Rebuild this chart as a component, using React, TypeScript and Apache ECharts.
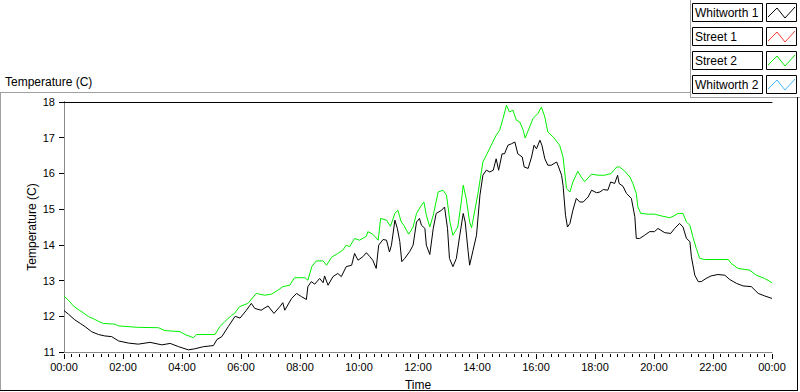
import React, { useEffect, useRef } from "react";
import * as echarts from "echarts";

// ---- data (minutes since midnight, temperature °C) ----
const whitworth1Minutes = [
  0, 9, 22, 33, 43, 56, 70, 83, 97, 111, 131, 151, 175, 199, 216, 233, 253, 266, 284, 304,
  311, 321, 334, 348, 358, 371, 381, 388, 401, 415, 427, 439, 445, 449, 463, 473, 483, 493, 496, 503,
  510, 520, 527, 530, 537, 547, 557, 564, 574, 585, 591, 598, 608, 615, 622, 628, 635, 640, 649, 656,
  662, 666, 673, 678, 683, 687, 693, 703, 710, 717, 723, 727, 734, 737, 744, 751, 757, 768, 774, 780,
  784, 791, 798, 805, 812, 816, 822, 825, 832, 839, 846, 852, 859, 866, 873, 879, 884, 891, 896, 903,
  910, 917, 923, 932, 936, 944, 951, 956, 961, 968, 972, 978, 984, 991, 1002, 1006, 1012, 1015, 1020, 1024,
  1029, 1035, 1042, 1049, 1056, 1066, 1073, 1083, 1090, 1097, 1106, 1112, 1120, 1126, 1129, 1137, 1144, 1154, 1161, 1164,
  1171, 1181, 1191, 1201, 1208, 1222, 1234, 1242, 1252, 1259, 1266, 1273, 1276, 1283, 1290, 1296, 1306, 1316, 1330, 1344,
  1354, 1368, 1381, 1398, 1412, 1425, 1440,
];
const whitworth1Temps = [
  12.16, 12.06, 11.9, 11.8, 11.71, 11.57, 11.49, 11.45, 11.43, 11.31, 11.25, 11.22, 11.27, 11.2, 11.24, 11.15, 11.06, 11.09, 11.15, 11.18,
  11.35, 11.43, 11.71, 12.0, 11.95, 12.17, 12.36, 12.22, 12.17, 12.29, 12.08, 12.27, 12.38, 12.17, 12.5, 12.64, 12.55, 12.47, 12.83, 12.97,
  12.9, 13.06, 12.94, 13.13, 12.87, 13.11, 13.2, 13.11, 13.39, 13.43, 13.76, 13.57, 13.67, 13.78, 13.67, 13.57, 13.34, 13.99, 14.15, 14.13,
  13.8, 13.99, 14.69, 14.46, 14.09, 13.53, 13.62, 13.81, 13.99, 14.64, 14.74, 14.55, 14.46, 13.99, 13.73, 14.46, 14.88, 14.97, 15.06, 14.46,
  13.62, 13.39, 13.62, 14.27, 14.88, 14.64, 13.81, 13.43, 13.85, 14.27, 15.39, 15.95, 16.09, 16.04, 16.09, 16.41, 16.09, 16.55, 16.55, 16.79,
  16.83, 16.88, 16.55, 16.46, 16.18, 16.14, 16.46, 16.79, 16.69, 16.93, 16.79, 16.41, 16.23, 16.23, 16.32, 16.18, 15.95, 15.67, 14.83, 14.5,
  14.6, 14.97, 15.3, 15.2, 15.2, 15.34, 15.53, 15.46, 15.48, 15.55, 15.53, 15.76, 15.72, 15.95, 15.72, 15.64, 15.44, 15.3, 14.79, 14.18,
  14.18, 14.27, 14.37, 14.37, 14.46, 14.34, 14.32, 14.46, 14.6, 14.5, 14.18, 14.09, 13.67, 13.15, 12.97, 12.97, 13.06, 13.13, 13.17, 13.15,
  13.03, 12.92, 12.85, 12.83, 12.64, 12.57, 12.5,
];
const street2Minutes = [
  0, 9, 19, 29, 39, 50, 60, 70, 80, 104, 111, 151, 192, 205, 236, 246, 263, 270, 307, 317,
  327, 341, 347, 357, 374, 391, 408, 422, 435, 445, 459, 469, 490, 496, 504, 513, 527, 534, 544, 557,
  567, 574, 581, 591, 601, 615, 618, 628, 639, 644, 656, 664, 673, 679, 686, 691, 701, 710, 717, 727,
  732, 737, 744, 751, 761, 771, 778, 785, 791, 801, 808, 812, 818, 825, 829, 835, 842, 852, 859, 869,
  879, 886, 893, 900, 906, 913, 920, 927, 934, 938, 947, 954, 964, 971, 978, 984, 995, 1008, 1015, 1022,
  1029, 1035, 1045, 1052, 1059, 1073, 1086, 1100, 1113, 1124, 1130, 1140, 1151, 1157, 1164, 1167, 1173, 1188, 1201, 1215,
  1232, 1239, 1249, 1259, 1266, 1273, 1279, 1286, 1293, 1303, 1330, 1351, 1357, 1371, 1395, 1408, 1425, 1440,
];
const street2Temps = [
  12.57, 12.45, 12.29, 12.19, 12.1, 11.99, 11.93, 11.86, 11.8, 11.78, 11.73, 11.69, 11.68, 11.6, 11.57, 11.49, 11.4, 11.49, 11.49, 11.71,
  11.85, 12.03, 12.08, 12.27, 12.36, 12.64, 12.59, 12.62, 12.73, 12.83, 12.87, 13.08, 13.08, 13.01, 13.39, 13.55, 13.55, 13.43, 13.65, 13.76,
  13.85, 13.99, 13.95, 14.18, 14.13, 14.24, 14.37, 14.3, 14.13, 14.74, 14.69, 14.52, 14.88, 14.97, 14.64, 14.55, 14.3, 14.5, 14.88, 15.11,
  15.2, 14.83, 14.5, 14.83, 15.48, 15.53, 15.39, 14.64, 14.27, 14.5, 15.2, 15.67, 15.3, 14.64, 14.48, 14.92, 15.44, 16.32, 16.51, 16.79,
  17.07, 17.21, 17.54, 17.91, 17.72, 17.77, 17.49, 17.44, 17.21, 16.99, 17.3, 17.54, 17.68, 17.86, 17.58, 17.16, 17.02, 16.79, 16.46, 15.58,
  15.48, 15.76, 16.06, 15.9, 15.77, 15.98, 15.95, 15.95, 16.0, 16.18, 16.18, 16.07, 15.9, 15.72, 15.44, 15.07, 14.88, 14.86, 14.86, 14.81,
  14.76, 14.8, 14.88, 14.88, 14.64, 14.55, 14.23, 13.9, 13.62, 13.59, 13.59, 13.59, 13.48, 13.34, 13.29, 13.15, 13.06, 12.94,
];

const legendNames = ["Whitworth 1", "Street 1", "Street 2", "Whitworth 2"];
const legendColors = ["#000000", "#ff3a3a", "#00f000", "#3fb8ff"];

const yTicks = { min: 11, max: 18, step: 1 };
const xTicks = { min: 0, max: 1440, step: 120 };

const FONT = "Liberation Sans";

function fmtTime(v: number): string {
  const m = Math.round(v) % 1440;
  const h = Math.floor(m / 60);
  const mm = m % 60;
  return String(h).padStart(2, "0") + ":" + String(mm).padStart(2, "0");
}

export default function App() {
  const ref = useRef<HTMLDivElement>(null);
  useEffect(() => {
    if (!ref.current) return;
    const chart = echarts.init(ref.current, undefined, { renderer: "svg" });

    const legendGraphics: any[] = [];
    legendNames.forEach((name, i) => {
      const y0 = 3 + i * 24;
      legendGraphics.push({
        type: "rect",
        shape: { x: 692.5, y: y0 + 0.5, width: 70, height: 18 },
        style: { fill: "#fff", stroke: "#000", lineWidth: 1 },
      });
      legendGraphics.push({
        type: "text",
        x: 695,
        y: y0 + 10,
        style: { text: name, fill: "#000", font: `12px "${FONT}"`, verticalAlign: "middle" },
      });
      legendGraphics.push({
        type: "rect",
        shape: { x: 766.5, y: y0 + 0.5, width: 30, height: 18 },
        style: { fill: "#fff", stroke: "#000", lineWidth: 1 },
      });
      legendGraphics.push({
        type: "polyline",
        shape: {
          points: [
            [768, y0 + 14],
            [777, y0 + 5],
            [785, y0 + 15],
            [795, y0 + 4],
          ],
        },
        style: { stroke: legendColors[i], lineWidth: 1, fill: null },
      });
    });

    const frame = [
      { type: "line", shape: { x1: 0, y1: 92.5, x2: 690, y2: 92.5 }, style: { stroke: "#a0a0a0", lineWidth: 1 } },
      { type: "line", shape: { x1: 0.5, y1: 92, x2: 0.5, y2: 391 }, style: { stroke: "#a0a0a0", lineWidth: 1 } },
      { type: "line", shape: { x1: 690.5, y1: 0, x2: 690.5, y2: 97 }, style: { stroke: "#a0a0a0", lineWidth: 1 } },
      { type: "line", shape: { x1: 690, y1: 97.5, x2: 800, y2: 97.5 }, style: { stroke: "#a0a0a0", lineWidth: 1 } },
      { type: "line", shape: { x1: 0, y1: 390.5, x2: 798, y2: 390.5 }, style: { stroke: "#000", lineWidth: 1 } },
      { type: "line", shape: { x1: 797.5, y1: 97, x2: 797.5, y2: 391 }, style: { stroke: "#000", lineWidth: 1 } },
    ];

    const axisFont = { fontFamily: FONT, fontSize: 11, color: "#000" };

    chart.setOption({
      animation: false,
      backgroundColor: "#fff",
      title: {
        text: "Temperature (C)",
        left: 5,
        top: 76,
        padding: 0,
        textStyle: { fontFamily: FONT, fontSize: 12, fontWeight: "normal", color: "#000" },
      },
      grid: { left: 64, right: 28, top: 102, bottom: 40, containLabel: false, outerBoundsMode: "none" },
      xAxis: [
        {
          type: "value",
          min: xTicks.min,
          max: xTicks.max,
          interval: xTicks.step,
          position: "bottom",
          offset: 2,
          axisLine: { show: false },
          axisTick: { show: true, length: 5, lineStyle: { color: "#000" } },
          minorTick: { show: true, splitNumber: 8, length: 3, lineStyle: { color: "#000" } },
          splitLine: { show: false },
          axisLabel: { ...axisFont, margin: 7, formatter: (v: number) => fmtTime(v) },
          name: "Time",
          nameLocation: "middle",
          nameGap: 25,
          nameMoveOverlap: false,
          nameTextStyle: { fontFamily: FONT, fontSize: 12, color: "#000" },
        },
        {
          type: "value",
          min: xTicks.min,
          max: xTicks.max,
          position: "bottom",
          axisLine: { show: true, lineStyle: { color: "#8a8a8a", width: 1 } },
          axisTick: { show: false },
          axisLabel: { show: false },
          splitLine: { show: false },
        },
        {
          type: "value",
          min: xTicks.min,
          max: xTicks.max,
          position: "top",
          axisLine: { show: true, lineStyle: { color: "#000", width: 1 } },
          axisTick: { show: false },
          axisLabel: { show: false },
          splitLine: { show: false },
        },
      ],
      yAxis: [
        {
          type: "value",
          min: yTicks.min,
          max: yTicks.max,
          interval: yTicks.step,
          position: "left",
          axisLine: { show: true, lineStyle: { color: "#000", width: 1 } },
          axisTick: { show: true, length: 5, lineStyle: { color: "#000" } },
          splitLine: { show: false },
          axisLabel: { ...axisFont, margin: 9 },
          name: "Temperature (C)",
          nameLocation: "middle",
          nameGap: 26,
          nameMoveOverlap: false,
          nameTextStyle: { fontFamily: FONT, fontSize: 12, color: "#000" },
        },
        {
          type: "value",
          min: yTicks.min,
          max: yTicks.max,
          position: "right",
          axisLine: { show: true, lineStyle: { color: "#8a8a8a", width: 1 } },
          axisTick: { show: false },
          axisLabel: { show: false },
          splitLine: { show: false },
        },
      ],
      series: [
        {
          name: legendNames[0],
          type: "line",
          xAxisIndex: 0,
          yAxisIndex: 0,
          showSymbol: false,
          lineStyle: { color: legendColors[0], width: 1 },
          data: whitworth1Minutes.map((m, i) => [m, whitworth1Temps[i]]),
        },
        {
          name: legendNames[2],
          type: "line",
          xAxisIndex: 0,
          yAxisIndex: 0,
          showSymbol: false,
          lineStyle: { color: legendColors[2], width: 1 },
          data: street2Minutes.map((m, i) => [m, street2Temps[i]]),
        },
      ],
      graphic: [...frame, ...legendGraphics],
    });
    return () => chart.dispose();
  }, []);
  return <div ref={ref} style={{ position: "absolute", left: 0, top: 0, width: 800, height: 392 }} />;
}
